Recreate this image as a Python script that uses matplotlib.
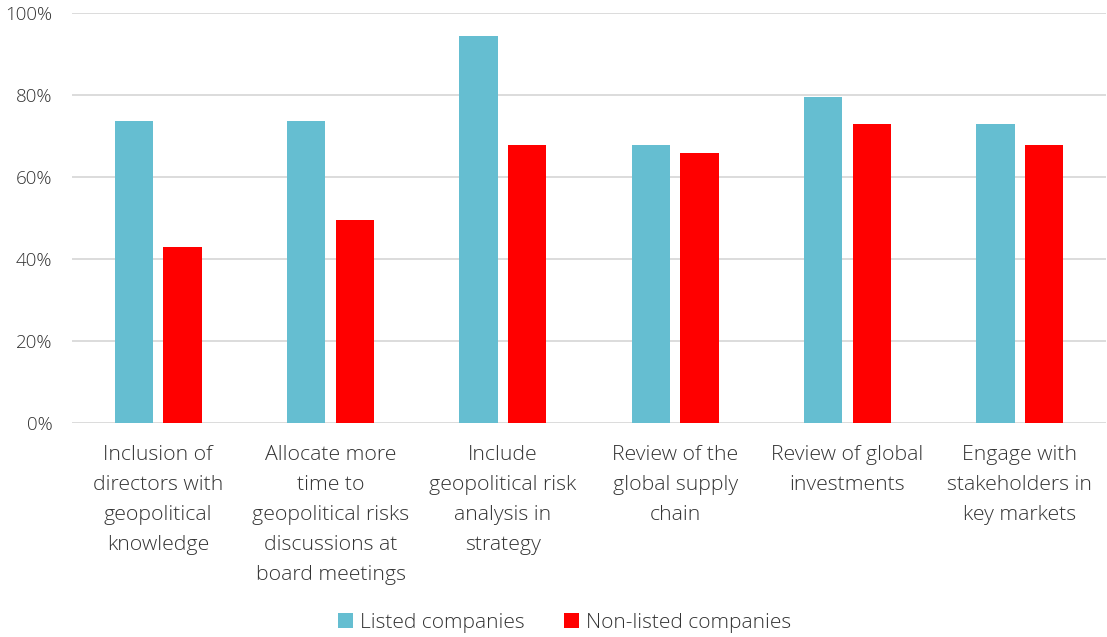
import matplotlib.pyplot as plt
import numpy as np
from matplotlib.ticker import PercentFormatter

plt.rcParams['font.family'] = ['Open Sans', 'DejaVu Sans']
plt.rcParams['font.weight'] = 'light'

categories = [
    "Inclusion of\ndirectors with\ngeopolitical\nknowledge",
    "Allocate more\ntime to\ngeopolitical risks\ndiscussions at\nboard meetings",
    "Include\ngeopolitical risk\nanalysis in\nstrategy",
    "Review of the\nglobal supply\nchain",
    "Review of global\ninvestments",
    "Engage with\nstakeholders in\nkey markets",
]
listed = [73.6, 73.6, 94.2, 67.7, 79.5, 72.8]
non_listed = [42.9, 49.4, 67.7, 65.8, 72.9, 67.7]

teal = "#65BED1"
red = "#FF0000"
text_col = "#333333"

fig = plt.figure(figsize=(11.07, 6.37), dpi=100)
ax = fig.add_axes([72 / 1107, 1 - 422.7 / 637, 1034 / 1107, 410 / 637])

x = np.arange(len(categories))
width = 0.223
off = 0.1415
ax.bar(x - off, listed, width=width, color=teal, label="Listed companies", zorder=3)
ax.bar(x + off, non_listed, width=width, color=red, label="Non-listed companies", zorder=3)

ax.set_xlim(-0.5, len(categories) - 0.5)
ax.set_ylim(0, 100)
ax.set_yticks(np.arange(0, 101, 20))
ax.yaxis.set_major_formatter(PercentFormatter(decimals=0))
ax.grid(axis='y', color="#D9D9D9", linewidth=1.3, zorder=0)
ax.set_axisbelow(True)
for s in ax.spines.values():
    s.set_visible(False)

ax.set_xticks(x)
ax.set_xticklabels(categories, fontsize=15.3, color=text_col, linespacing=1.66)
ax.tick_params(axis='x', length=0, pad=16)
ax.tick_params(axis='y', length=0, pad=14, labelsize=13.5, labelcolor=text_col)

fig.legend(loc='center', bbox_to_anchor=(0.51, 1 - 623 / 637), ncol=2, frameon=False,
           fontsize=15, labelcolor=text_col, handlelength=0.7, handleheight=0.7,
           handletextpad=0.35, columnspacing=1.9)

fig.savefig("out.png", dpi=100)
